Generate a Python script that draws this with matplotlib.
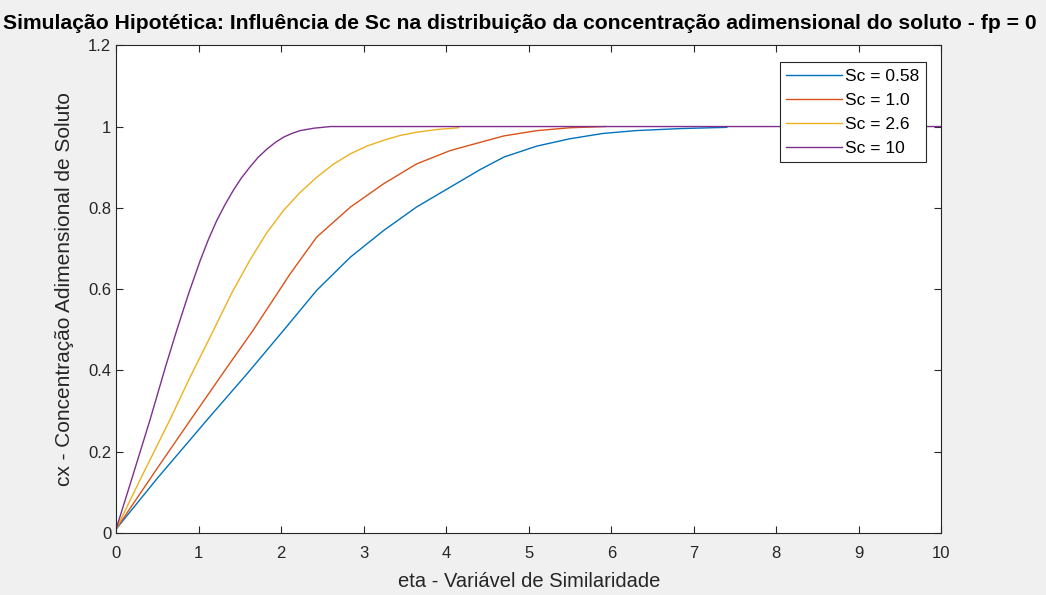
import matplotlib
matplotlib.use("Agg")
import matplotlib.pyplot as plt

# ---- data ----
eta_058 = [0.0, 0.5, 1.1, 1.6, 2.03, 2.43, 2.84, 3.24, 3.64, 4.05, 4.41, 4.7, 5.1, 5.5, 5.9, 6.3, 6.84, 7.4]
cx_058  = [0.01, 0.135, 0.278, 0.395, 0.499, 0.597, 0.679, 0.744, 0.802, 0.851, 0.894, 0.925, 0.952, 0.970, 0.983, 0.990, 0.995, 0.998]

eta_10 = [0.0, 0.5, 0.9, 1.3, 1.66, 2.11, 2.43, 2.84, 3.24, 3.64, 4.05, 4.41, 4.7, 5.1, 5.5, 5.93]
cx_10  = [0.01, 0.16, 0.278, 0.395, 0.499, 0.638, 0.728, 0.802, 0.859, 0.908, 0.941, 0.961, 0.977, 0.99, 0.997, 1.0]

eta_26 = [0.0, 0.3, 0.65, 0.9, 1.18, 1.4, 1.62, 1.82, 2.03, 2.23, 2.43, 2.63, 2.84, 3.04, 3.24, 3.44, 3.64, 3.9, 4.15]
cx_26  = [0.01, 0.135, 0.278, 0.385, 0.499, 0.59, 0.671, 0.737, 0.794, 0.838, 0.875, 0.907, 0.933, 0.952, 0.966, 0.978, 0.986, 0.993, 0.997]

eta_100 = [0.0, 0.2, 0.41, 0.6, 0.735, 0.88, 1.02, 1.12, 1.22, 1.32, 1.42, 1.52, 1.62, 1.72, 1.83, 1.93, 2.03, 2.13, 2.23, 2.4, 2.6, 10.0]
cx_100  = [0.01, 0.14, 0.278, 0.41, 0.499, 0.59, 0.671, 0.723, 0.769, 0.808, 0.843, 0.874, 0.90, 0.924, 0.945, 0.961, 0.974, 0.983, 0.99, 0.996, 1.0, 1.0]

labels = ["Sc = 0.58", "Sc = 1.0", "Sc = 2.6", "Sc = 10"]
colors = ["#0072BD", "#D95319", "#EDB120", "#7E2F8E"]

xticks = list(range(0, 11))
yticks = [0, 0.2, 0.4, 0.6, 0.8, 1.0, 1.2]
yticklabels = ["0", "0.2", "0.4", "0.6", "0.8", "1", "1.2"]

title = "Simulação Hipotética: Influência de Sc na distribuição da concentração adimensional do soluto - fp = 0"
xlabel = "eta - Variável de Similaridade"
ylabel = "cx - Concentração Adimensional de Soluto"

plt.rcParams['font.family'] = ['Liberation Sans', 'DejaVu Sans']
dark = "#262626"

fig = plt.figure(figsize=(10.46, 5.95), dpi=100, facecolor="#f0f0f0")
ax = fig.add_axes([0.111, 0.104, 0.789, 0.820])
ax.set_facecolor("white")

series = [(eta_058, cx_058), (eta_10, cx_10), (eta_26, cx_26), (eta_100, cx_100)]
for (x, y), lab, c in zip(series, labels, colors):
    ax.plot(x, y, color=c, lw=1.0, label=lab)

ax.set_xlim(0, 10)
ax.set_ylim(0, 1.2)
ax.set_xticks(xticks)
ax.set_yticks(yticks)
ax.set_yticklabels(yticklabels)
ax.tick_params(direction="in", top=True, right=True, length=5, width=0.8,
               colors=dark, labelsize=12, labelcolor=dark)
ax.tick_params(axis="x", pad=9)
for s in ax.spines.values():
    s.set_color(dark)
    s.set_linewidth(0.8)

ax.set_xlabel(xlabel, fontsize=14.5, color=dark, labelpad=8)
ax.set_ylabel(ylabel, fontsize=15, color=dark, labelpad=10)
fig.text(0.497, 0.961, title, ha="center", va="center", fontsize=15.2, fontweight="bold", color="black")

leg = ax.legend(loc="upper right", bbox_to_anchor=(0.981, 0.965), fontsize=12.5,
                frameon=True, fancybox=False, edgecolor=dark, framealpha=1,
                handlelength=3.2, handletextpad=0.2, borderpad=0.36, labelspacing=0.52,
                borderaxespad=0.0)
leg.get_frame().set_linewidth(0.8)

fig.savefig("out.png", dpi=100, facecolor=fig.get_facecolor())
